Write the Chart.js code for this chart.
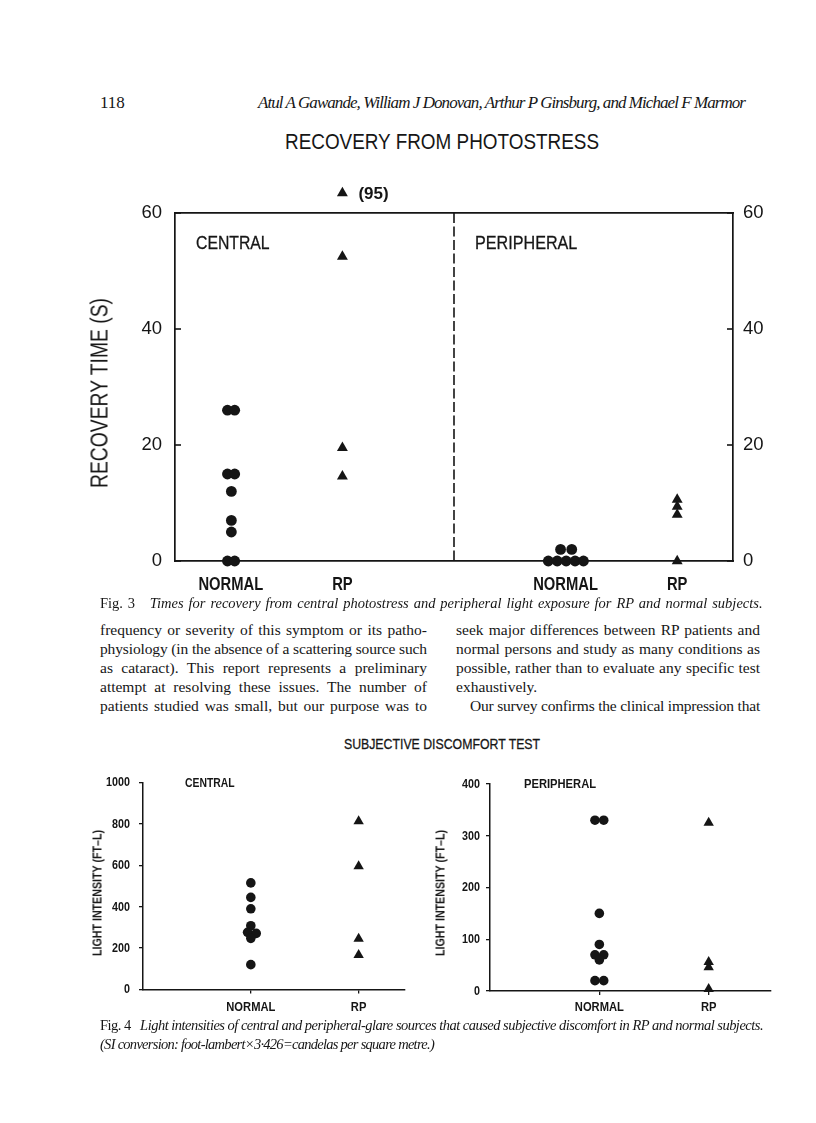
<!DOCTYPE html>
<html>
<head>
<meta charset="utf-8">
<script src="https://cdn.jsdelivr.net/npm/chart.js@4.4.1/dist/chart.umd.min.js"></script>
<style>
  html, body { margin: 0; padding: 0; background: #fff; }
  body { width: 816px; height: 1123px; position: relative; overflow: hidden; color: #161616;
         font-family: "Liberation Serif", "Times New Roman", serif; }
  .abs { position: absolute; white-space: nowrap; }
  .sans { font-family: "Liberation Sans", Arial, sans-serif; }
  .squeeze { transform-origin: 0 50%; }
  .fit { position: absolute; white-space: nowrap; }
  .vtitle { position: absolute; white-space: nowrap; font-family: "Liberation Sans", Arial, sans-serif; }
  canvas { position: absolute; }
  i { font-style: italic; }
</style>
</head>
<body>

<div class="abs" style="left:100px; top:93px; font-size:17px; line-height:20px;">118</div>
<div class="fit" data-w="487" style="left:258px; top:93px; font-size:17px; line-height:20px;"><i>Atul A Gawande, William J Donovan, Arthur P Ginsburg, and Michael F Marmor</i></div>

<div class="abs sans" style="left:442px; top:131px; font-size:22.5px; line-height:22.5px; transform:translateX(-50%) scaleX(0.84);">RECOVERY FROM PHOTOSTRESS</div>

<canvas id="recovery-chart" width="740" height="450" style="left:60px; top:160px;"></canvas>
<div class="abs sans squeeze" style="left:196px; top:233px; font-size:19px; line-height:19px; transform:scaleX(0.83); -webkit-text-stroke:0.3px #161616;">CENTRAL</div>
<div class="abs sans squeeze" style="left:475px; top:233px; font-size:19px; line-height:19px; transform:scaleX(0.85); -webkit-text-stroke:0.3px #161616;">PERIPHERAL</div>
<div class="vtitle" style="left:100px; top:393px; font-size:23px; line-height:23px; transform:translate(-50%, -50%) rotate(-90deg) scaleX(0.84);">RECOVERY TIME (S)</div>

<div class="fit" data-w="660" style="left:100px; top:594px; font-size:14.5px; line-height:19px;">Fig. 3&nbsp;&nbsp; <i>Times for recovery from central photostress and peripheral light exposure for RP and normal subjects.</i></div>

<div class="fit" data-w="327" style="left:100px; top:620px; font-size:15.5px; line-height:19px;">frequency or severity of this symptom or its patho-</div>
<div class="fit" data-w="327" style="left:100px; top:639px; font-size:15.5px; line-height:19px;">physiology (in the absence of a scattering source such</div>
<div class="fit" data-w="327" style="left:100px; top:658px; font-size:15.5px; line-height:19px;">as cataract). This report represents a preliminary</div>
<div class="fit" data-w="327" style="left:100px; top:677px; font-size:15.5px; line-height:19px;">attempt at resolving these issues. The number of</div>
<div class="fit" data-w="327" style="left:100px; top:696px; font-size:15.5px; line-height:19px;">patients studied was small, but our purpose was to</div>

<div class="fit" data-w="304" style="left:456px; top:620px; font-size:15.5px; line-height:19px;">seek major differences between RP patients and</div>
<div class="fit" data-w="304" style="left:456px; top:639px; font-size:15.5px; line-height:19px;">normal persons and study as many conditions as</div>
<div class="fit" data-w="304" style="left:456px; top:658px; font-size:15.5px; line-height:19px;">possible, rather than to evaluate any specific test</div>
<div class="abs" style="left:456px; top:677px; font-size:15.5px; line-height:19px;">exhaustively.</div>
<div class="fit" data-w="290" style="left:470px; top:696px; font-size:15.5px; line-height:19px;">Our survey confirms the clinical impression that</div>

<div class="abs sans" style="left:442px; top:736px; font-size:15px; line-height:15px; transform:translateX(-50%) scaleX(0.82); -webkit-text-stroke:0.3px #161616;">SUBJECTIVE DISCOMFORT TEST</div>

<canvas id="central-chart" width="360" height="270" style="left:60px; top:760px;"></canvas>
<canvas id="peripheral-chart" width="390" height="270" style="left:400px; top:760px;"></canvas>
<div class="abs sans squeeze" style="left:185px; top:776px; font-size:13px; line-height:13px; font-weight:bold; transform:scaleX(0.8);">CENTRAL</div>
<div class="abs sans squeeze" style="left:524px; top:777px; font-size:13px; line-height:13px; font-weight:bold; transform:scaleX(0.86);">PERIPHERAL</div>
<div class="vtitle" style="left:97px; top:893px; font-size:13px; line-height:13px; font-weight:bold; transform:translate(-50%, -50%) rotate(-90deg) scaleX(0.82);">LIGHT INTENSITY (FT&ndash;L)</div>
<div class="vtitle" style="left:440px; top:893px; font-size:13px; line-height:13px; font-weight:bold; transform:translate(-50%, -50%) rotate(-90deg) scaleX(0.82);">LIGHT INTENSITY (FT&ndash;L)</div>

<div class="fit" data-w="663" style="left:100px; top:1016px; font-size:14.5px; line-height:19px;">Fig. 4&nbsp;&nbsp; <i>Light intensities of central and peripheral-glare sources that caused subjective discomfort in RP and normal subjects.</i></div>
<div class="fit" data-w="334" style="left:100px; top:1035px; font-size:14.5px; line-height:19px;"><i>(SI conversion: foot-lambert×3·426=candelas per square metre.)</i></div>

<script>
// Fig. 3 - recovery time (s)
const recoveryGroups = ["NORMAL", "RP", "NORMAL", "RP"];
const recoveryGroupX = [1, 3, 7, 9];
const recoveryDividerX = 5;
const recoveryTicks = [0, 20, 40, 60];

const centralNormalTimes = [26, 26, 15, 15, 12, 7, 5, 0, 0];
const centralNormalJitter = [-0.06, 0.07, -0.06, 0.07, 0.01, 0.01, 0.01, -0.06, 0.07];
const centralRPTimes = [52.5, 19.5, 14.6];
const centralRPOffScale = [95];
const peripheralNormalTimes = [0, 0, 0, 0, 0, 2, 2];
const peripheralNormalJitter = [-0.31, -0.15, 0.01, 0.17, 0.32, -0.09, 0.11];
const peripheralRPTimes = [10.6, 9.4, 8, 0];

// Fig. 4 - light intensity (ft-L)
const discomfortGroups = ["NORMAL", "RP"];
const discomfortGroupX = [1, 2];
const centralTicks = [0, 200, 400, 600, 800, 1000];
const peripheralTicks = [0, 100, 200, 300, 400];

const centralNormalLight = [515, 445, 390, 308, 276, 271, 247, 120];
const centralNormalLightJitter = [0, 0, 0, 0, -0.03, 0.05, 0, 0];
const centralRPLight = [813, 595, 245, 167];
const peripheralNormalLight = [330, 330, 150, 90, 70, 70, 60, 20, 20];
const peripheralNormalLightJitter = [-0.04, 0.04, 0, 0, -0.04, 0.04, 0, -0.04, 0.04];
const peripheralRPLight = [325, 56, 46, 4];

const INK = "#151515";
const SANS = '"Liberation Sans", Arial, sans-serif';

function place(values, center, jitter) {
  return values.map((value, index) => ({ x: center + (jitter ? jitter[index] : 0), y: value }));
}

function dots(points, style, radius) {
  return {
    data: points,
    pointStyle: style,
    pointRadius: radius,
    pointBackgroundColor: INK,
    pointBorderColor: INK,
    pointBorderWidth: 0,
    showLine: false,
    clip: false,
  };
}

const baseOptions = {
  responsive: false,
  animation: false,
  events: [],
};

function squeezedText(ctx, text, x, y, squeeze) {
  ctx.save();
  ctx.translate(x, y);
  ctx.scale(squeeze, 1);
  ctx.fillText(text, 0, 0);
  ctx.restore();
}

// axis labels drawn narrow like the original typeface
const condensedLabels = {
  id: "condensedLabels",
  afterDraw(chart, args, opts) {
    const { ctx, chartArea, scales } = chart;
    ctx.save();
    ctx.fillStyle = INK;
    ctx.textBaseline = "middle";
    ctx.font = opts.font;
    ctx.textAlign = "center";
    scales.x.ticks.forEach((tick, index) => {
      const px = scales.x.getPixelForValue(tick.value);
      squeezedText(ctx, opts.labels[index], px, chartArea.bottom + opts.offset, opts.squeeze);
    });
    if (opts.yFont) {
      ctx.font = opts.yFont;
      ctx.textAlign = "right";
      scales.y.ticks.forEach((tick) => {
        const py = scales.y.getPixelForValue(tick.value);
        squeezedText(ctx, String(tick.value), chartArea.left - opts.yGap, py + 0.5, opts.squeeze);
      });
    }
    ctx.restore();
  },
};

const recoveryExtras = {
  id: "recoveryExtras",
  beforeDatasetsDraw(chart) {
    const { ctx, chartArea, scales } = chart;
    ctx.save();
    ctx.strokeStyle = INK;
    ctx.lineWidth = 1.6;
    scales.y.ticks.forEach((tick) => {
      const py = scales.y.getPixelForValue(tick.value);
      ctx.beginPath();
      ctx.moveTo(chartArea.left, py);
      ctx.lineTo(chartArea.left + 6, py);
      ctx.stroke();
    });
    scales.yRight.ticks.forEach((tick) => {
      const py = scales.yRight.getPixelForValue(tick.value);
      ctx.beginPath();
      ctx.moveTo(chartArea.right - 6, py);
      ctx.lineTo(chartArea.right, py);
      ctx.stroke();
    });
    const dx = scales.x.getPixelForValue(recoveryDividerX);
    ctx.setLineDash([10, 3.5]);
    ctx.beginPath();
    ctx.moveTo(dx, chartArea.top);
    ctx.lineTo(dx, chartArea.bottom);
    ctx.stroke();
    ctx.restore();
  },
  afterDraw(chart) {
    const { ctx, chartArea, scales } = chart;
    ctx.save();
    ctx.fillStyle = INK;
    centralRPOffScale.forEach((value) => {
      const px = scales.x.getPixelForValue(recoveryGroupX[1]);
      const py = chartArea.top - 20;
      Chart.helpers.drawPoint(ctx, { pointStyle: "triangle", radius: 6.3, borderWidth: 0, rotation: 0 }, px, py);
      ctx.font = `bold 17px ${SANS}`;
      ctx.textAlign = "left";
      ctx.textBaseline = "middle";
      ctx.fillText(`(${value})`, px + 16, py + 1);
    });
    ctx.restore();
  },
};

const boxBorder = { display: true, color: INK, width: 1.7 };

new Chart(document.getElementById("recovery-chart"), {
  type: "scatter",
  data: {
    datasets: [
      dots(place(centralNormalTimes, recoveryGroupX[0], centralNormalJitter), "circle", 5.4),
      dots(place(centralRPTimes, recoveryGroupX[1]), "triangle", 6.3),
      dots(place(peripheralNormalTimes, recoveryGroupX[2], peripheralNormalJitter), "circle", 5.4),
      dots(place(peripheralRPTimes, recoveryGroupX[3]), "triangle", 6.3),
    ],
  },
  options: {
    ...baseOptions,
    layout: { padding: 0 },
    plugins: {
      legend: { display: false },
      tooltip: { enabled: false },
      condensedLabels: { labels: recoveryGroups, font: `bold 18px ${SANS}`, squeeze: 0.82, offset: 24 },
    },
    scales: {
      x: {
        type: "linear", min: 0, max: 10, position: "bottom",
        afterFit: (scale) => { scale.height = 49; },
        afterBuildTicks: (scale) => { scale.ticks = recoveryGroupX.map((value) => ({ value })); },
        ticks: { display: false },
        grid: { display: false, drawTicks: false },
        border: boxBorder,
      },
      xTop: {
        type: "linear", min: 0, max: 10, position: "top",
        afterFit: (scale) => { scale.height = 53; },
        ticks: { display: false },
        grid: { display: false, drawTicks: false },
        border: boxBorder,
      },
      y: {
        type: "linear", min: 0, max: 60, position: "left",
        afterFit: (scale) => { scale.width = 115; },
        afterBuildTicks: (scale) => { scale.ticks = recoveryTicks.map((value) => ({ value })); },
        ticks: { padding: 13, color: INK, font: { family: SANS, size: 18.5 } },
        grid: { display: false, drawTicks: false },
        border: boxBorder,
      },
      yRight: {
        type: "linear", min: 0, max: 60, position: "right",
        afterFit: (scale) => { scale.width = 67; },
        afterBuildTicks: (scale) => { scale.ticks = recoveryTicks.map((value) => ({ value })); },
        ticks: { padding: 10, color: INK, font: { family: SANS, size: 18.5 } },
        grid: { display: false, drawTicks: false },
        border: boxBorder,
      },
    },
  },
  plugins: [recoveryExtras, condensedLabels],
});

function discomfortChart(canvasId, normalPoints, rpPoints, yTicks, frame) {
  const axisLine = { display: true, color: INK, width: 1.5 };
  const tickMarks = { display: true, drawOnChartArea: false, drawTicks: true, tickLength: 4, color: INK, lineWidth: 1.3 };
  return new Chart(document.getElementById(canvasId), {
    type: "scatter",
    data: {
      datasets: [dots(normalPoints, "circle", 4.8), dots(rpPoints, "triangle", 6)],
    },
    options: {
      ...baseOptions,
      layout: { padding: { top: frame.top, right: frame.right, left: 0, bottom: 0 } },
      plugins: {
        legend: { display: false },
        tooltip: { enabled: false },
        condensedLabels: {
          labels: discomfortGroups, font: `bold 13px ${SANS}`, squeeze: 0.86, offset: frame.labelOffset,
          yFont: `bold 12.5px ${SANS}`, yGap: frame.yGap,
        },
      },
      scales: {
        x: {
          type: "linear", min: 0, max: frame.xMax,
          afterFit: (scale) => { scale.height = frame.bottom; },
          afterBuildTicks: (scale) => { scale.ticks = discomfortGroupX.map((value) => ({ value })); },
          ticks: { display: false },
          grid: tickMarks,
          border: axisLine,
        },
        y: {
          type: "linear", min: 0, max: yTicks[yTicks.length - 1],
          afterFit: (scale) => { scale.width = frame.left; },
          afterBuildTicks: (scale) => { scale.ticks = yTicks.map((value) => ({ value })); },
          ticks: { display: false },
          grid: tickMarks,
          border: axisLine,
        },
      },
    },
    plugins: [condensedLabels],
  });
}

discomfortChart(
  "central-chart",
  place(centralNormalLight, discomfortGroupX[0], centralNormalLightJitter),
  place(centralRPLight, discomfortGroupX[1]),
  centralTicks,
  { left: 83, right: 15, top: 22.5, bottom: 40.5, xMax: 2.43, yGap: 13, labelOffset: 17.5 }
);

discomfortChart(
  "peripheral-chart",
  place(peripheralNormalLight, discomfortGroupX[0], peripheralNormalLightJitter),
  place(peripheralRPLight, discomfortGroupX[1]),
  peripheralTicks,
  { left: 90, right: 19, top: 24, bottom: 39, xMax: 2.57, yGap: 10, labelOffset: 16 }
);

// set each typeset line to its column width
document.querySelectorAll(".fit").forEach((line) => {
  const target = Number(line.dataset.w);
  const natural = line.getBoundingClientRect().width;
  const text = line.textContent;
  const gaps = (text.match(/ /g) || []).length;
  const diff = target - natural;
  if (diff >= 0 && gaps > 0) {
    line.style.wordSpacing = `${diff / gaps}px`;
  } else {
    line.style.letterSpacing = `${diff / text.length}px`;
  }
});
</script>
</body>
</html>
